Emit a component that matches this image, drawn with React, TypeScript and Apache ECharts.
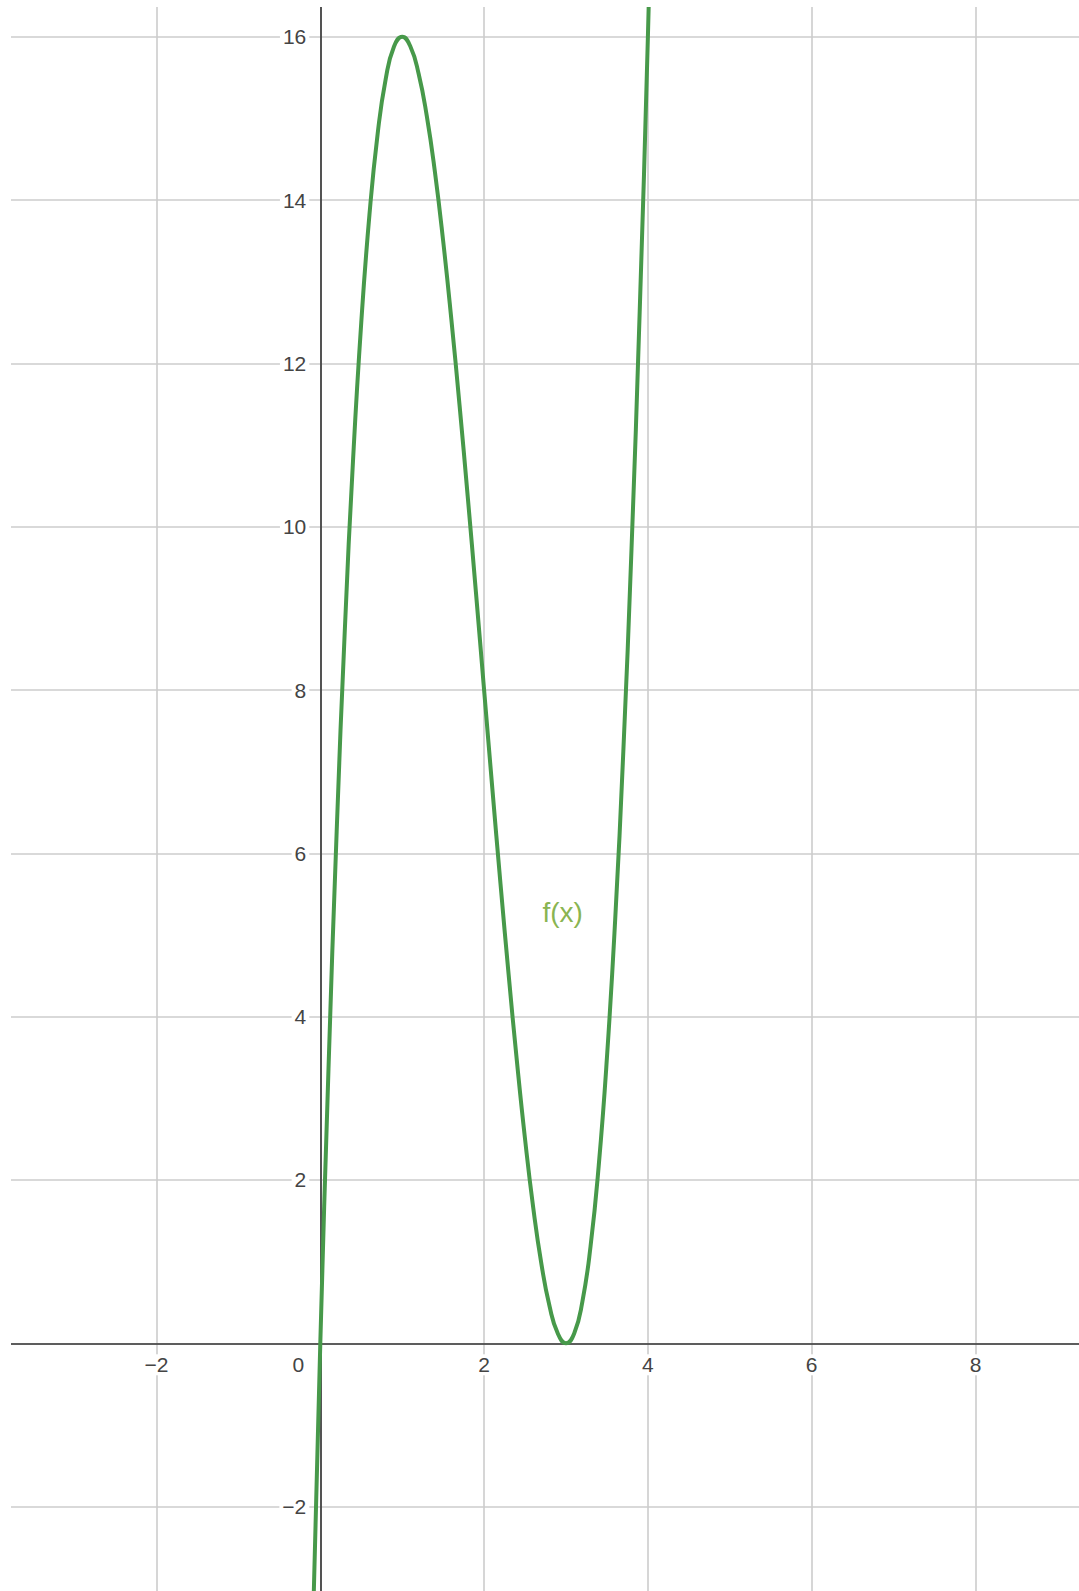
import React, { useEffect, useRef } from "react";
import * as echarts from "echarts";

const curveX = [-0.1, 0, 0.1, 0.2, 0.3, 0.4, 0.5, 0.6, 0.7, 0.8, 0.9, 1.0, 1.1, 1.2, 1.3, 1.4, 1.5, 1.6, 1.7, 1.8, 1.9, 2.0, 2.1, 2.2, 2.3, 2.4, 2.5, 2.6, 2.7, 2.8, 2.9, 3.0, 3.1, 3.2, 3.3, 3.4, 3.5, 3.6, 3.7, 3.8, 3.9, 4.0, 4.1];
const curveY = [-3.84, 0, 3.36, 6.27, 8.75, 10.82, 12.5, 13.82, 14.81, 15.49, 15.88, 16, 15.88, 15.55, 15.03, 14.34, 13.5, 12.54, 11.49, 10.37, 9.2, 8, 6.8, 5.63, 4.51, 3.46, 2.5, 1.66, 0.97, 0.45, 0.12, 0, 0.12, 0.51, 1.19, 2.18, 3.5, 5.18, 7.25, 9.73, 12.64, 16, 19.84];

const curveName = "f(x)";
const curveLabelAt = [2.96, 5.28];

const xTicks = { min: -4, max: 10, step: 2 };
const yTicks = { min: -4, max: 18, step: 2 };
const xVisible = [-2, 0, 2, 4, 6, 8];
const yVisible = [-2, 2, 4, 6, 8, 10, 12, 14, 16];

const fmt = (v: number) => (v < 0 ? "\u2212" + Math.abs(v) : String(v));

export default function App() {
  const ref = useRef<HTMLDivElement>(null);
  useEffect(() => {
    document.body.style.margin = "0";
    if (!ref.current) return;
    const chart = echarts.init(ref.current, undefined, { renderer: "svg" });
    const unitX = 81.9;
    const unitY = 81.66;
    const x0 = 320.3;
    const y0 = 1343.3;
    const left = x0 + xTicks.min * unitX;
    const width = (xTicks.max - xTicks.min) * unitX;
    const top = y0 - yTicks.max * unitY;
    const height = (yTicks.max - yTicks.min) * unitY;
    const bottomPx = top + height;
    const labelFont = "Arial, 'Liberation Sans', sans-serif";
    chart.setOption({
      animation: false,
      backgroundColor: "#ffffff",
      grid: { left, top, width, height, containLabel: false, outerBoundsMode: "none" },
      xAxis: {
        type: "value",
        min: xTicks.min,
        max: xTicks.max,
        interval: xTicks.step,
        position: "bottom",
        offset: -(bottomPx - y0),
        axisLine: { onZero: false, lineStyle: { color: "#333333", width: 1.6 } },
        axisTick: { show: false },
        splitLine: { show: true, lineStyle: { color: "#cccccc", width: 1.6 } },
        axisLabel: {
          margin: 11,
          hideOverlap: false,
          formatter: (v: number) =>
            !xVisible.includes(v) ? "" : v === 0 ? "{o|0}" : "{n|" + fmt(v) + "}",
          rich: {
            n: { color: "#444", fontSize: 21, fontFamily: labelFont, backgroundColor: "#fff", padding: [0, 2] },
            o: { color: "#444", fontSize: 21, fontFamily: labelFont, padding: [0, 44, 0, 0] },
          },
        },
        z: 3,
      },
      yAxis: {
        type: "value",
        min: yTicks.min,
        max: yTicks.max,
        interval: yTicks.step,
        position: "left",
        offset: -(x0 - left),
        axisLine: { onZero: false, lineStyle: { color: "#333333", width: 1.6 } },
        axisTick: { show: false },
        splitLine: { show: true, lineStyle: { color: "#cccccc", width: 1.6 } },
        axisLabel: {
          margin: 11,
          hideOverlap: false,
          color: "#444",
          fontSize: 21,
          fontFamily: labelFont,
          backgroundColor: "#fff",
          padding: [0, 3],
          formatter: (v: number) => (yVisible.includes(v) ? fmt(v) : ""),
        },
        z: 3,
      },
      series: [
        {
          type: "line",
          name: curveName,
          data: curveX.map((x, i) => [x, curveY[i]]),
          smooth: 0.5,
          showSymbol: false,
          clip: true,
          lineStyle: { color: "#47994a", width: 4 },
          z: 5,
        },
        {
          type: "scatter",
          data: [curveLabelAt],
          symbolSize: 0,
          silent: true,
          label: {
            show: true,
            position: "inside",
            formatter: curveName,
            color: "#6aa122",
            fontSize: 28,
            fontFamily: labelFont,
          },
          z: 6,
        },
      ],
      graphic: [
        { type: "rect", shape: { x: 0, y: 0, width: 11, height: 1591 }, style: { fill: "#fff" }, z: 100 },
        { type: "rect", shape: { x: 0, y: 0, width: 1079, height: 7 }, style: { fill: "#fff" }, z: 100 },
      ],
    });
    return () => chart.dispose();
  }, []);
  return <div ref={ref} style={{ width: 1079, height: 1591 }} />;
}
